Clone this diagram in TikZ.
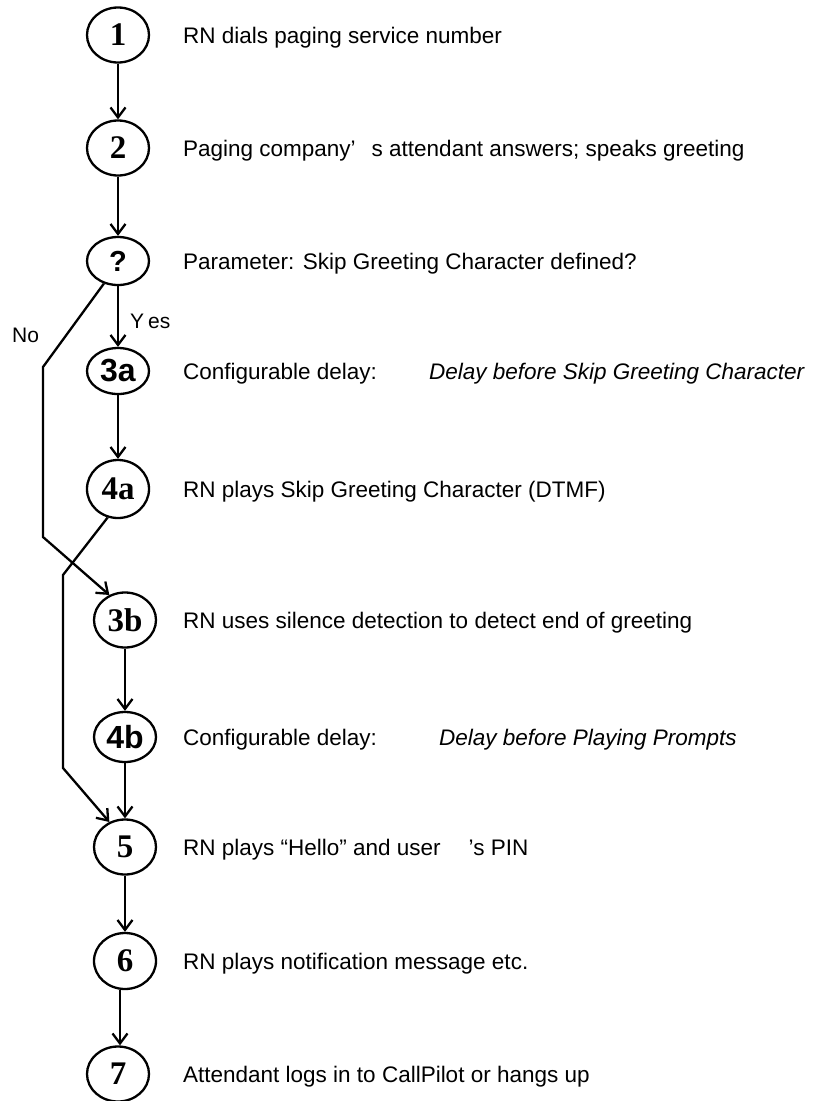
\documentclass[tikz,border=0pt]{standalone}
\usepackage{fontspec}
\setmainfont{Liberation Sans}
\newfontfamily\stepserif{Liberation Serif}
\usetikzlibrary{shapes.geometric,arrows.meta}
\begin{document}
\begin{tikzpicture}[x=1pt,y=-1pt,
  line width=2.3pt,
  stepnode/.style={ellipse,draw,line width=2.3pt,inner sep=0pt,
    minimum width=62pt,minimum height=55pt},
  serifnum/.style={font=\stepserif\bfseries\fontsize{33}{33}\selectfont},
  sansnum/.style={font=\bfseries\fontsize{32}{32}\selectfont},
  desc/.style={anchor=base west,inner sep=0pt,font=\fontsize{22.5}{26}\selectfont},
  branch/.style={anchor=base west,inner sep=0pt,font=\fontsize{21}{24}\selectfont},
  arr/.style={-{Straight Barb[length=10pt,width=15pt]}}]
\useasboundingbox (0,0) rectangle (828,1101);

% step circles
\node[stepnode,serifnum] (n1) at (118,35) {1};
\node[stepnode,serifnum] (n2) at (118,148) {2};
\node[stepnode,minimum height=48pt,font=\bfseries\fontsize{29}{29}\selectfont] (q) at (118,261) {?};
\node[stepnode,sansnum,minimum height=46pt] (n3a) at (118,371) {3a};
\node[stepnode,serifnum,minimum height=58pt] (n4a) at (118,489) {4a};
\node[stepnode,serifnum] (n3b) at (125,620) {3b};
\node[stepnode,sansnum,minimum height=50pt] (n4b) at (125,737) {4b};
\node[stepnode,serifnum] (n5) at (125,847) {5};
\node[stepnode,serifnum,minimum height=56pt] (n6) at (125,961) {6};
\node[stepnode,serifnum] (n7) at (118,1074) {7};

% descriptions
\node[desc] (t1) at (182,43) {RN dials paging service number};
\node[desc] (t2) at (182,156) {Paging company’\hspace{16pt}s attendant answers; speaks greeting};
\node[desc] (tq) at (182,269) {Parameter: Skip Greeting Character defined?};
\node[desc] (t3a) at (182,379) {Configurable delay:\hspace{52pt}\textit{Delay before Skip Greeting Character}};
\node[desc] (t4a) at (182,497) {RN plays Skip Greeting Character (DTMF)};
\node[desc] (t3b) at (182,628) {RN uses silence detection to detect end of greeting};
\node[desc] (t4b) at (182,745) {Configurable delay:\hspace{62pt}\textit{Delay before Playing Prompts}};
\node[desc] (t5) at (182,855) {RN plays “Hello” and user\hspace{28pt}’s PIN};
\node[desc] (t6) at (182,969) {RN plays notification message etc.};
\node[desc] (t7) at (182,1082) {Attendant logs in to CallPilot or hangs up};

% branch labels
\node[branch] (yes) at (129,328) {Y\hspace{4pt}es};
\node[branch] (no) at (11,342) {No};

% bend points of the two side routes
\coordinate (noA) at (43,367);
\coordinate (noB) at (43,537);
\coordinate (skA) at (63,575);
\coordinate (skB) at (63,768);

% main flow
\draw[arr] (n1) -- (n2);
\draw[arr] (n2) -- (q);
\draw[arr] (q) -- (n3a);
\draw[arr] (n3a) -- (n4a);
\draw[arr] (n3b) -- (n4b);
\draw[arr] (n4b) -- (n5);
\draw[arr] (n5) -- (n6);
\draw[arr] ([xshift=-5pt]n6.south) -- ([xshift=2pt]n7.north);

% "No" route to silence detection
\draw[arr] (q.238) -- (noA) -- (noB) -- (n3b.122);
% route from the skip character to step 5
\draw[arr] (n4a.250) -- (skA) -- (skB) -- (n5.122);
\end{tikzpicture}
\end{document}
